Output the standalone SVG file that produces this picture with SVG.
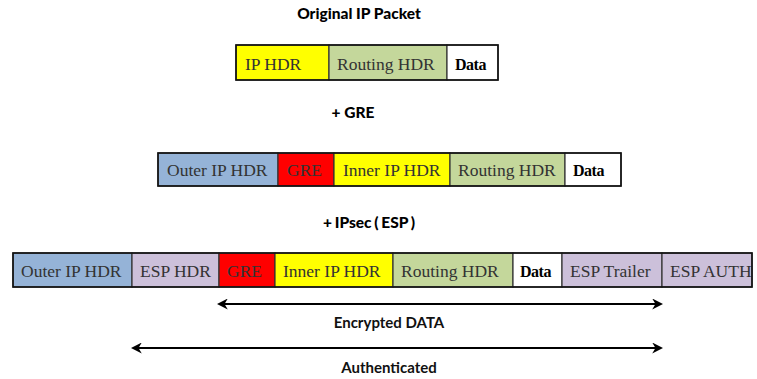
<svg xmlns="http://www.w3.org/2000/svg" width="757" height="379" viewBox="0 0 757 379">
  <style>
    .cell { stroke: #333; stroke-width: 1.2; }
    .frame { fill: none; stroke: #111; stroke-width: 1.6; }
    .lbl { font-family: "Liberation Serif", "Times New Roman", serif; font-size: 17.5px; fill: #333; }
    .data { font-family: "Liberation Serif", "Times New Roman", serif; font-size: 16px; font-weight: bold; fill: #000; letter-spacing: -0.5px; }
    .title { font-family: Lato, "Liberation Sans", sans-serif; font-size: 15.5px; font-weight: 900; fill: #000; text-anchor: middle; }
    .note { font-family: Lato, "Liberation Sans", sans-serif; font-size: 15px; font-weight: bold; fill: #111; text-anchor: middle; }
    .ip { fill: #FFFF00; }
    .rt { fill: #C4D79B; }
    .dt { fill: #FFFFFF; }
    .outer { fill: #95B3D7; }
    .gre { fill: #FF0000; }
    .esp { fill: #CCC0DA; }
    .span { stroke: #000; stroke-width: 2; fill: none; marker-start: url(#head); marker-end: url(#head); }
  </style>
  <defs>
    <marker id="head" viewBox="0 0 10 10" refX="8" refY="5" markerWidth="5.5" markerHeight="5.5" orient="auto-start-reverse" markerUnits="strokeWidth">
      <path d="M0,0 L10,5 L0,10 L3,5 Z" fill="#000"/>
    </marker>
  </defs>

  <!-- Original IP packet -->
  <text class="title" x="359" y="19">Original IP Packet</text>
  <g id="pkt1">
    <g id="pkt1-ip"><rect class="cell ip" x="236" y="45" width="93" height="35"/><text class="lbl" x="245" y="70">IP HDR</text></g>
    <g id="pkt1-routing"><rect class="cell rt" x="329" y="45" width="118" height="35"/><text class="lbl" x="337" y="70">Routing HDR</text></g>
    <g id="pkt1-data"><rect class="cell dt" x="447" y="45" width="51" height="35"/><text class="data" x="455" y="70">Data</text></g>
    <rect class="frame" x="236" y="45" width="262" height="35"/>
  </g>

  <!-- GRE encapsulation -->
  <text class="title" x="353" y="118">+ GRE</text>
  <g id="pkt2">
    <g id="pkt2-outer"><rect class="cell outer" x="158" y="153" width="120" height="33"/><text class="lbl" x="167" y="176">Outer IP HDR</text></g>
    <g id="pkt2-gre"><rect class="cell gre" x="278" y="153" width="56" height="33"/><text class="lbl" x="287" y="176">GRE</text></g>
    <g id="pkt2-inner"><rect class="cell ip" x="334" y="153" width="116" height="33"/><text class="lbl" x="343" y="176">Inner IP HDR</text></g>
    <g id="pkt2-routing"><rect class="cell rt" x="450" y="153" width="115" height="33"/><text class="lbl" x="458" y="176">Routing HDR</text></g>
    <g id="pkt2-data"><rect class="cell dt" x="565" y="153" width="56" height="33"/><text class="data" x="573" y="176">Data</text></g>
    <rect class="frame" x="158" y="153" width="463" height="33"/>
  </g>

  <!-- IPsec ESP encapsulation -->
  <text class="title" x="369" y="228" word-spacing="-1">+ IPsec ( ESP )</text>
  <g id="pkt3">
    <g id="pkt3-outer"><rect class="cell outer" x="13" y="253" width="119" height="34"/><text class="lbl" x="21" y="277">Outer IP HDR</text></g>
    <g id="pkt3-esphdr"><rect class="cell esp" x="132" y="253" width="87" height="34"/><text class="lbl" x="140" y="277">ESP HDR</text></g>
    <g id="pkt3-gre"><rect class="cell gre" x="219" y="253" width="56" height="34"/><text class="lbl" x="227" y="277">GRE</text></g>
    <g id="pkt3-inner"><rect class="cell ip" x="275" y="253" width="118" height="34"/><text class="lbl" x="283" y="277">Inner IP HDR</text></g>
    <g id="pkt3-routing"><rect class="cell rt" x="393" y="253" width="120" height="34"/><text class="lbl" x="401" y="277">Routing HDR</text></g>
    <g id="pkt3-data"><rect class="cell dt" x="513" y="253" width="49" height="34"/><text class="data" x="520" y="277">Data</text></g>
    <g id="pkt3-trailer"><rect class="cell esp" x="562" y="253" width="100" height="34"/><text class="lbl" x="570" y="277">ESP Trailer</text></g>
    <g id="pkt3-auth"><rect class="cell esp" x="662" y="253" width="90" height="34"/><text class="lbl" x="670" y="277">ESP AUTH</text></g>
    <rect class="frame" x="13" y="253" width="739" height="34" stroke="#444"/>
  </g>

  <!-- Coverage spans -->
  <g id="connectors">
    <line class="span" x1="219" y1="304" x2="661" y2="304"/>
    <line class="span" x1="133" y1="348" x2="661" y2="348"/>
  </g>
  <text class="note" x="389" y="328">Encrypted DATA</text>
  <text class="note" x="389" y="373">Authenticated</text>
</svg>
